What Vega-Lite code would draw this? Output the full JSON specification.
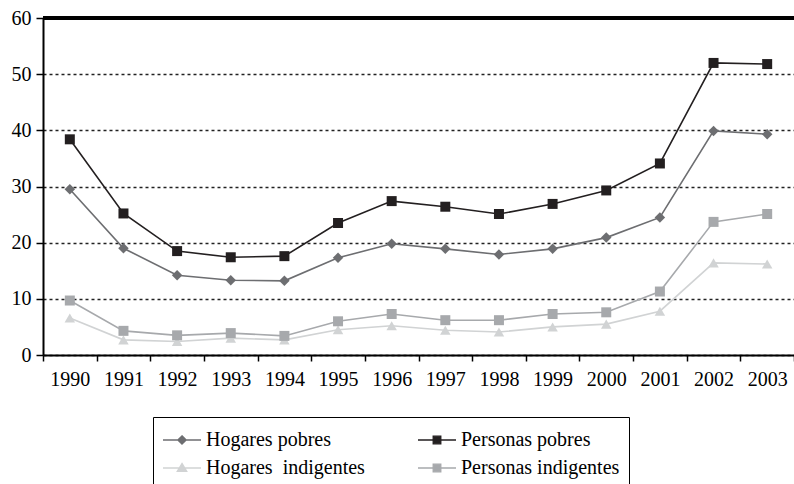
{
  "$schema": "https://vega.github.io/schema/vega-lite/v6.json",
  "width": 751,
  "height": 337,
  "autosize": "none",
  "padding": {"left": 43, "top": 18, "right": 0, "bottom": 129},
  "background": "white",
  "config": {
    "view": {"stroke": null},
    "font": "Times New Roman, Liberation Serif, DejaVu Serif, serif"
  },
  "data": {
    "values": [
      {"year": "1990", "serie": "Hogares pobres", "valor": 29.5},
      {"year": "1991", "serie": "Hogares pobres", "valor": 19.0},
      {"year": "1992", "serie": "Hogares pobres", "valor": 14.2},
      {"year": "1993", "serie": "Hogares pobres", "valor": 13.3},
      {"year": "1994", "serie": "Hogares pobres", "valor": 13.2},
      {"year": "1995", "serie": "Hogares pobres", "valor": 17.3},
      {"year": "1996", "serie": "Hogares pobres", "valor": 19.8},
      {"year": "1997", "serie": "Hogares pobres", "valor": 18.9},
      {"year": "1998", "serie": "Hogares pobres", "valor": 17.9},
      {"year": "1999", "serie": "Hogares pobres", "valor": 18.9},
      {"year": "2000", "serie": "Hogares pobres", "valor": 20.9},
      {"year": "2001", "serie": "Hogares pobres", "valor": 24.5},
      {"year": "2002", "serie": "Hogares pobres", "valor": 39.9},
      {"year": "2003", "serie": "Hogares pobres", "valor": 39.3},
      {"year": "1990", "serie": "Personas pobres", "valor": 38.4},
      {"year": "1991", "serie": "Personas pobres", "valor": 25.2},
      {"year": "1992", "serie": "Personas pobres", "valor": 18.5},
      {"year": "1993", "serie": "Personas pobres", "valor": 17.4},
      {"year": "1994", "serie": "Personas pobres", "valor": 17.6},
      {"year": "1995", "serie": "Personas pobres", "valor": 23.5},
      {"year": "1996", "serie": "Personas pobres", "valor": 27.4},
      {"year": "1997", "serie": "Personas pobres", "valor": 26.4},
      {"year": "1998", "serie": "Personas pobres", "valor": 25.1},
      {"year": "1999", "serie": "Personas pobres", "valor": 26.9},
      {"year": "2000", "serie": "Personas pobres", "valor": 29.3},
      {"year": "2001", "serie": "Personas pobres", "valor": 34.1},
      {"year": "2002", "serie": "Personas pobres", "valor": 52.0},
      {"year": "2003", "serie": "Personas pobres", "valor": 51.8},
      {"year": "1990", "serie": "Hogares indigentes", "valor": 6.6},
      {"year": "1991", "serie": "Hogares indigentes", "valor": 2.7},
      {"year": "1992", "serie": "Hogares indigentes", "valor": 2.4},
      {"year": "1993", "serie": "Hogares indigentes", "valor": 3.0},
      {"year": "1994", "serie": "Hogares indigentes", "valor": 2.7},
      {"year": "1995", "serie": "Hogares indigentes", "valor": 4.5},
      {"year": "1996", "serie": "Hogares indigentes", "valor": 5.2},
      {"year": "1997", "serie": "Hogares indigentes", "valor": 4.4},
      {"year": "1998", "serie": "Hogares indigentes", "valor": 4.1},
      {"year": "1999", "serie": "Hogares indigentes", "valor": 5.0},
      {"year": "2000", "serie": "Hogares indigentes", "valor": 5.5},
      {"year": "2001", "serie": "Hogares indigentes", "valor": 7.8},
      {"year": "2002", "serie": "Hogares indigentes", "valor": 16.4},
      {"year": "2003", "serie": "Hogares indigentes", "valor": 16.2},
      {"year": "1990", "serie": "Personas indigentes", "valor": 9.7},
      {"year": "1991", "serie": "Personas indigentes", "valor": 4.3},
      {"year": "1992", "serie": "Personas indigentes", "valor": 3.5},
      {"year": "1993", "serie": "Personas indigentes", "valor": 3.9},
      {"year": "1994", "serie": "Personas indigentes", "valor": 3.4},
      {"year": "1995", "serie": "Personas indigentes", "valor": 6.0},
      {"year": "1996", "serie": "Personas indigentes", "valor": 7.3},
      {"year": "1997", "serie": "Personas indigentes", "valor": 6.2},
      {"year": "1998", "serie": "Personas indigentes", "valor": 6.2},
      {"year": "1999", "serie": "Personas indigentes", "valor": 7.3},
      {"year": "2000", "serie": "Personas indigentes", "valor": 7.6},
      {"year": "2001", "serie": "Personas indigentes", "valor": 11.3},
      {"year": "2002", "serie": "Personas indigentes", "valor": 23.7},
      {"year": "2003", "serie": "Personas indigentes", "valor": 25.1}
    ]
  },
  "layer": [
    {
      "encoding": {
        "x": {
          "field": "year",
          "type": "ordinal",
          "scale": {"type": "band", "paddingInner": 0, "paddingOuter": 0},
          "axis": {
            "title": null,
            "labelAngle": 0,
            "tickBand": "extent",
            "labelFontSize": 20,
            "labelColor": "black",
            "labelPadding": 8,
            "tickSize": 6,
            "tickColor": "black",
            "tickWidth": 1.5,
            "domainColor": "black",
            "domainWidth": 2,
            "grid": false
          }
        },
        "y": {
          "field": "valor",
          "type": "quantitative",
          "scale": {"domain": [0, 60], "nice": false},
          "axis": {
            "title": null,
            "values": [0, 10, 20, 30, 40, 50, 60],
            "labelFontSize": 20,
            "labelColor": "black",
            "labelPadding": 5,
            "tickSize": 7,
            "tickColor": "black",
            "tickWidth": 1.5,
            "domainColor": "black",
            "domainWidth": 2,
            "grid": true,
            "gridColor": "#222222",
            "gridDash": [3, 3],
            "gridWidth": 1.5
          }
        },
        "color": {
          "field": "serie",
          "type": "nominal",
          "scale": {
            "domain": ["Hogares pobres", "Personas pobres", "Hogares indigentes", "Personas indigentes"],
            "range": ["#6d6e71", "#231f20", "#d1d3d4", "#a7a9ac"]
          },
          "legend": {
            "title": null,
            "orient": "none",
            "direction": "horizontal",
            "legendX": 110,
            "legendY": 399,
            "columns": 2,
            "columnPadding": 52,
            "rowPadding": 0,
            "clipHeight": 28,
            "padding": 9,
            "strokeColor": "black",
            "symbolSize": 1444,
            "symbolStrokeWidth": 1.3,
            "labelOffset": 4,
            "labelFontSize": 20,
            "labelColor": "black",
            "labelLimit": 400,
            "labelExpr": "datum.label === 'Hogares indigentes' ? 'Hogares\u00a0 indigentes' : datum.label",
            "encode": {
              "symbols": {
                "update": {
                  "shape": {"signal": "datum.value === 'Hogares pobres' ? 'M-1,0L1,0M0,-0.22L0.22,0L0,0.22L-0.22,0Z' : (datum.value === 'Hogares indigentes' ? 'M-1,0L1,0M0,-0.24L0.25,0.18L-0.25,0.18Z' : 'M-1,0L1,0M-0.2,-0.2L0.2,-0.2L0.2,0.2L-0.2,0.2Z')"},
                  "fill": {"signal": "datum.value === 'Hogares pobres' ? '#6d6e71' : (datum.value === 'Personas pobres' ? '#231f20' : (datum.value === 'Hogares indigentes' ? '#d1d3d4' : '#a7a9ac'))"},
                  "stroke": {"signal": "datum.value === 'Hogares pobres' ? '#2e3180' : (datum.value === 'Personas pobres' ? '#231f20' : (datum.value === 'Hogares indigentes' ? '#d1d3d4' : '#a7a9ac'))"},
                  "strokeWidth": {"value": 1.3},
                  "opacity": {"value": 1},
                  "fillOpacity": {"value": 1},
                  "strokeOpacity": {"value": 1}
                }
              }
            }
          }
        }
      },
      "layer": [
        {
          "mark": {"type": "line", "strokeWidth": 1.6},
          "encoding": {"order": {"field": "year"}}
        },
        {
          "transform": [{"filter": "datum.serie === 'Hogares indigentes'"}],
          "mark": {"type": "point", "filled": true, "size": 110, "opacity": 1, "shape": "triangle-up"}
        },
        {
          "transform": [{"filter": "datum.serie === 'Personas indigentes'"}],
          "mark": {"type": "point", "filled": true, "size": 100, "opacity": 1, "shape": "square"}
        },
        {
          "transform": [{"filter": "datum.serie === 'Hogares pobres'"}],
          "mark": {"type": "point", "filled": true, "size": 110, "opacity": 1, "shape": "diamond"}
        },
        {
          "transform": [{"filter": "datum.serie === 'Personas pobres'"}],
          "mark": {"type": "point", "filled": true, "size": 100, "opacity": 1, "shape": "square"}
        }
      ]
    },
    {
      "mark": {"type": "rule", "color": "black", "strokeWidth": 2.5},
      "encoding": {"y": {"datum": 60}}
    }
  ]
}
